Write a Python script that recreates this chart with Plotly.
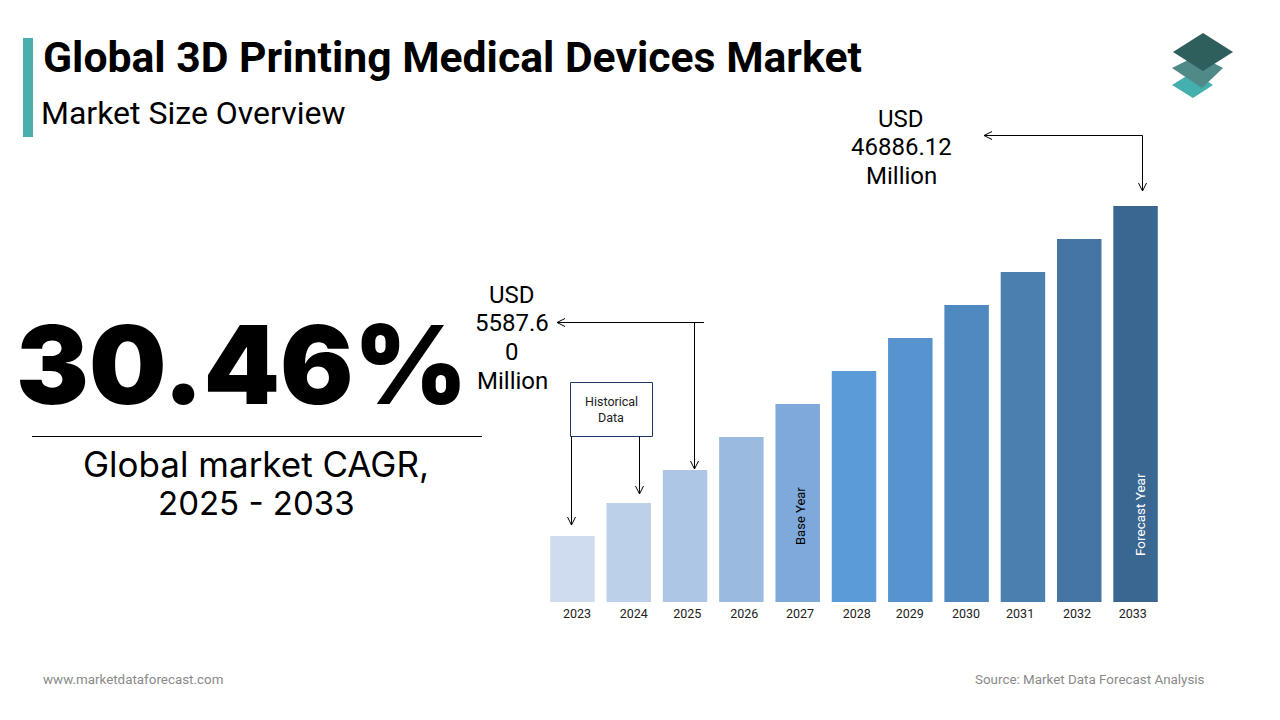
import plotly.graph_objects as go

W, H = 1280, 720

# Bar heights as drawn in the picture (relative units, the chart is schematic)
years = [2023, 2024, 2025, 2026, 2027, 2028, 2029, 2030, 2031, 2032, 2033]
heights = [2, 3, 4, 5, 6, 7, 8, 9, 10, 11, 12]
bar_colors = ["#CFDCEF", "#BDD0EA", "#AEC6E5", "#9ABADF", "#7FA9DB", "#5B9BD8",
              "#5693CF", "#5089BF", "#4A7FB0", "#4475A3", "#3A6792"]
# year labels are not quite centred under the bars in the original
tick_nudge = [0.08, 0.09, 0.04, 0.05, 0.04, 0.05, -0.01, -0.01, -0.05, -0.04, -0.05]


def px(x):
    return x / W


def py(y):
    return 1 - y / H


def label(x, y, text, size, color="black", family="Roboto", weight=None, angle=0, anchor="center"):
    font = dict(family=family, size=size, color=color)
    if weight:
        font["weight"] = weight
    return dict(x=px(x), y=py(y), xref="paper", yref="paper", text=text, showarrow=False,
                font=font, textangle=angle, xanchor=anchor, yanchor="middle")


def line(x0, y0, x1, y1, color="black", width=1):
    return dict(type="line", xref="paper", yref="paper", x0=px(x0), y0=py(y0), x1=px(x1), y1=py(y1),
                line=dict(color=color, width=width))


def poly(points, color):
    path = "M " + " L ".join(f"{px(a):.5f},{py(b):.5f}" for a, b in points) + " Z"
    return dict(type="path", xref="paper", yref="paper", path=path, fillcolor=color, line_width=0)


def arrow_down(x, y):
    return [line(x - 4, y - 8, x, y), line(x + 4, y - 8, x, y)]


def arrow_left(x, y):
    return [line(x + 8, y - 4, x, y), line(x + 8, y + 4, x, y)]


fig = go.Figure(go.Bar(x=years, y=heights, marker_color=bar_colors, marker_line_width=0, width=0.79))

shapes = [
    dict(type="rect", xref="paper", yref="paper", x0=px(23), x1=px(33), y0=py(38), y1=py(137),
         fillcolor="#4AAFAC", line_width=0),
    line(32, 436.5, 482, 436.5),
    # historical data box
    dict(type="rect", xref="paper", yref="paper", x0=px(570.5), x1=px(652.5), y0=py(382.5), y1=py(436.5),
         fillcolor="white", line=dict(color="#1F3864", width=1)),
    line(571.5, 436.5, 571.5, 525),
    line(639.5, 436.5, 639.5, 494),
    line(704, 322.5, 557, 322.5),
    line(694.5, 322.5, 694.5, 469),
    line(1142.5, 135.5, 984, 135.5),
    line(1142.5, 135.5, 1142.5, 191),
]
shapes += arrow_down(571.5, 525) + arrow_down(639.5, 494) + arrow_down(694.5, 469) + arrow_down(1142.5, 191)
shapes += arrow_left(557, 322.5) + arrow_left(984, 135.5)
# logo, bottom layer first
shapes += [
    poly([(1172, 85), (1193, 72), (1213, 85), (1193, 98)], "#44AFAD"),
    poly([(1172, 68), (1198, 55), (1223, 68), (1202, 88)], "#4F8A88"),
    poly([(1173, 52), (1203, 33), (1233, 52), (1203, 71)], "#2F5F5D"),
]

annotations = [
    label(41, 57, "Global 3D Printing Medical Devices Market", 42.7, weight=700, anchor="left"),
    label(39, 113, "Market Size Overview", 32, anchor="left"),
    label(241, 364, "30.46%", 109, family="Inter", weight=900),
    label(256, 464, "Global market CAGR,", 35, family="Inter"),
    label(256, 503, "2025 - 2033", 33, family="Inter"),
    label(611, 401, "Historical", 12.5, color="#222222"),
    label(611, 417, "Data", 12.5, color="#222222"),
    label(800, 516, "Base Year", 13, angle=-90),
    label(1140, 515, "Forecast Year", 13.5, color="white", angle=-90),
    label(41, 679, "www.marketdataforecast.com", 13.4, color="#8A8A8A", anchor="left"),
    label(1207, 679, "Source: Market Data Forecast Analysis", 13.4, color="#8A8A8A", anchor="right"),
]
for y, t in zip([295, 323, 352, 381], ["USD", "5587.6", "0", "Million"]):
    annotations.append(label(512, y, t, 24))
for y, t in zip([119, 147, 176], ["USD", "46886.12", "Million"]):
    annotations.append(label(901, y, t, 24))

fig.update_layout(
    width=W, height=H,
    margin=dict(l=0, r=0, t=0, b=0),
    plot_bgcolor="white", paper_bgcolor="white",
    showlegend=False,
    shapes=shapes,
    annotations=annotations,
    xaxis=dict(
        domain=[px(544.3), px(1163.7)], range=[2022.5, 2033.5],
        tickvals=[y + n for y, n in zip(years, tick_nudge)], ticktext=[str(y) for y in years],
        showgrid=False, zeroline=False, showline=False, ticks="outside", ticklen=0, tickcolor="white",
        tickfont=dict(family="Roboto", size=12.5, color="#222222"),
    ),
    yaxis=dict(
        domain=[py(602), py(206)], range=[0, 12],
        visible=False, showgrid=False,
    ),
)

# drop the browser's default page margin so the figure fills the window
fig.write_html("out.html", config=dict(displayModeBar=False),
               post_script="document.body.style.margin = '0';")
